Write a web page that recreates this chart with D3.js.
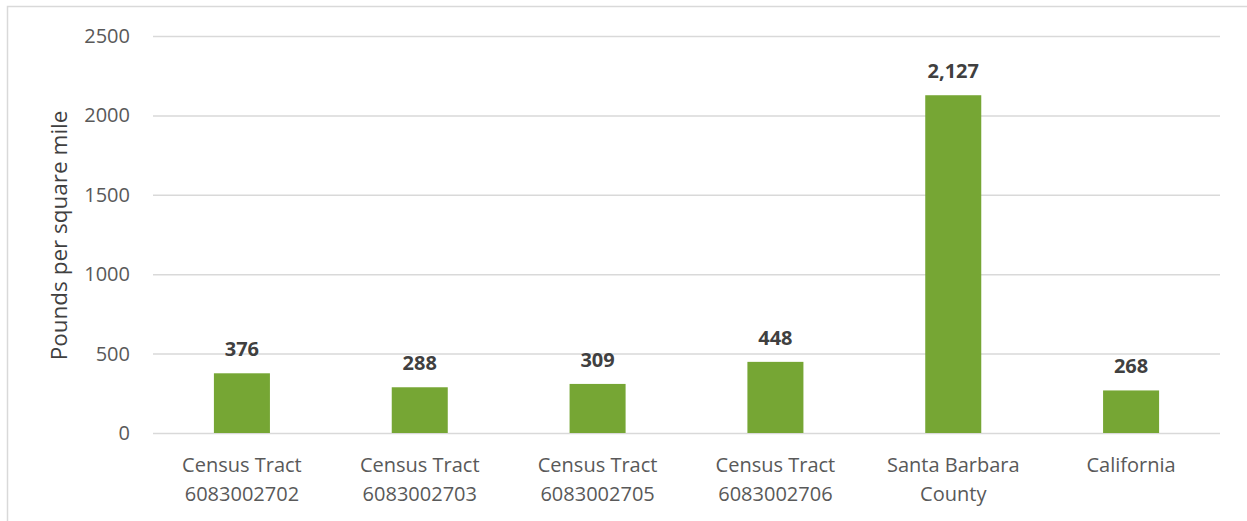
<!DOCTYPE html>
<html lang="en">
<head>
    <meta charset="utf-8">
    <title>Pounds per square mile</title>
    <script src="https://d3js.org/d3.v7.min.js"></script>
    <style>
        body { margin: 0; background: #fff; }
        text { font-family: "Open Sans", sans-serif; }
    </style>
</head>

<body>
<svg width="1247" height="521"></svg>
<script>
    var categories = [
        ["Census Tract", "6083002702"],
        ["Census Tract", "6083002703"],
        ["Census Tract", "6083002705"],
        ["Census Tract", "6083002706"],
        ["Santa Barbara", "County"],
        ["California"]
    ];
    var values = [376, 288, 309, 448, 2127, 268];
    var yTicks = [0, 500, 1000, 1500, 2000, 2500];

    var marge = {top: 36, bottom: 88, left: 153, right: 27};
    var svg = d3.select("svg");
    var width = +svg.attr("width");
    var height = +svg.attr("height");
    var innerW = width - marge.left - marge.right;
    var innerH = height - marge.top - marge.bottom;

    // chart frame (runs past the window on the right and bottom)
    svg.append("rect")
        .attr("x", 7.5).attr("y", 6.5)
        .attr("width", width + 20).attr("height", height + 20)
        .attr("fill", "none")
        .attr("stroke", "#d9d9d9")
        .attr("stroke-width", 1.5);

    var g = svg.append("g")
        .attr("transform", "translate(" + marge.left + "," + marge.top + ")");

    var xScale = d3.scaleBand()
        .domain(d3.range(values.length))
        .range([0, innerW])
        .paddingInner(0.685)
        .paddingOuter(0.3425);

    var yScale = d3.scaleLinear()
        .domain([0, 2500])
        .range([innerH, 0]);

    // gridlines
    g.append("g")
        .selectAll("line")
        .data(yTicks)
        .enter()
        .append("line")
        .attr("x1", 0).attr("x2", innerW)
        .attr("y1", function(d){ return yScale(d) + 0.5; })
        .attr("y2", function(d){ return yScale(d) + 0.5; })
        .attr("stroke", "#d9d9d9")
        .attr("stroke-width", 1.5);

    // y axis labels
    var yAxis = d3.axisLeft(yScale).tickValues(yTicks).tickFormat(d3.format("d"))
        .tickSize(0).tickPadding(23);
    var ya = g.append("g").call(yAxis);
    ya.select(".domain").remove();
    ya.selectAll("text")
        .attr("fill", "#595959")
        .style("font-size", "20px")
        .style("font-family", "'Open Sans', sans-serif");

    // bars
    g.selectAll(".bar")
        .data(values)
        .enter()
        .append("rect")
        .attr("class", "bar")
        .attr("x", function(d, i){ return xScale(i); })
        .attr("y", function(d){ return yScale(d); })
        .attr("width", xScale.bandwidth())
        .attr("height", function(d){ return innerH - yScale(d); })
        .attr("fill", "#76a634");

    // value labels
    g.selectAll(".val")
        .data(values)
        .enter()
        .append("text")
        .attr("class", "val")
        .attr("x", function(d, i){ return xScale(i) + xScale.bandwidth() / 2; })
        .attr("y", function(d){ return yScale(d) - 17; })
        .attr("text-anchor", "middle")
        .attr("fill", "#404040")
        .style("font-size", "20px")
        .style("font-weight", "bold")
        .text(function(d){ return d3.format(",")(d); });

    // category labels
    var cats = g.selectAll(".cat")
        .data(categories)
        .enter()
        .append("text")
        .attr("class", "cat")
        .attr("text-anchor", "middle")
        .attr("fill", "#595959")
        .style("font-size", "20px")
        .attr("transform", function(d, i){
            return "translate(" + (xScale(i) + xScale.bandwidth() / 2) + "," + (innerH + 39) + ")";
        });
    cats.selectAll("tspan")
        .data(function(d){ return d; })
        .enter()
        .append("tspan")
        .attr("x", 0)
        .attr("y", function(d, i){ return i * 29; })
        .text(function(d){ return d; });

    // axis title
    svg.append("text")
        .attr("transform", "translate(67," + (marge.top + innerH / 2 + 1) + ") rotate(-90)")
        .attr("text-anchor", "middle")
        .attr("fill", "#404040")
        .style("font-size", "22.5px")
        .text("Pounds per square mile");
</script>
</body>
</html>
